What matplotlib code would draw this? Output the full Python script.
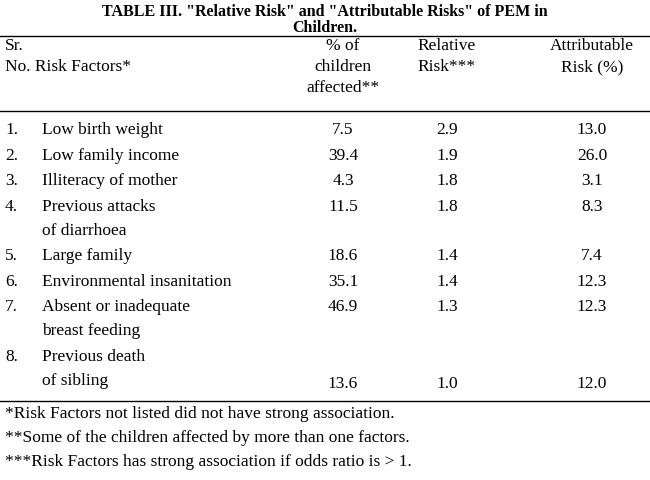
import matplotlib.pyplot as plt

title = ['TABLE III. "Relative Risk" and "Attributable Risks" of PEM in', 'Children.']
nums = ['1.', '2.', '3.', '4.', '5.', '6.', '7.', '8.']
factors = [['Low birth weight'], ['Low family income'], ['Illiteracy of mother'],
           ['Previous attacks', 'of diarrhoea'], ['Large family'],
           ['Environmental insanitation'], ['Absent or inadequate', 'breast feeding'],
           ['Previous death', 'of sibling']]
pct = ['7.5', '39.4', '4.3', '11.5', '18.6', '35.1', '46.9', '13.6']
rr = ['2.9', '1.9', '1.8', '1.8', '1.4', '1.4', '1.3', '1.0']
ar = ['13.0', '26.0', '3.1', '8.3', '7.4', '12.3', '12.3', '12.0']
value_line = [0, 0, 0, 0, 0, 0, 0, 1]  # which text line the numbers sit on
row_y = [130, 156, 181, 207, 256, 282, 307, 357]
notes = ['*Risk Factors not listed did not have strong association.',
         '**Some of the children affected by more than one factors.',
         '***Risk Factors has strong association if odds ratio is > 1.']

W, H = 650, 481
plt.rcParams['font.family'] = 'Liberation Serif'
fig = plt.figure(figsize=(6.5, 4.81), dpi=100)
ax = fig.add_axes([0, 0, 1, 1])
ax.set_xlim(0, W)
ax.set_ylim(H, 0)
ax.axis('off')

def t(x, y, s, ha='left', fs=12.5, **kw):
    ax.text(x, y, s, ha=ha, va='center', fontsize=fs, **kw)

t(325, 12, title[0], 'center', fs=11.5, weight='bold')
t(325, 28, title[1], 'center', fs=11.5, weight='bold')
ax.plot([0, W], [37, 37], color='black', lw=1)

t(5, 46, 'Sr.')
t(5, 67, 'No. Risk Factors*')
for i, s in enumerate(['% of', 'children', 'affected**']):
    t(343, 46 + 21 * i, s, 'center')
for i, s in enumerate(['Relative', 'Risk***']):
    t(447, 46 + 21 * i, s, 'center')
for i, s in enumerate(['Attributable', 'Risk (%)']):
    t(592, 46 + 21 * i, s, 'center')
ax.plot([0, W], [112, 112], color='black', lw=1)

for n, f, p, r, a, vl, y in zip(nums, factors, pct, rr, ar, value_line, row_y):
    t(5, y, n)
    for j, s in enumerate(f):
        t(42, y + 24 * j, s)
    yv = y + 27 * vl
    t(343, yv, p, 'center')
    t(447, yv, r, 'center')
    t(592, yv, a, 'center')

ax.plot([0, W], [402, 402], color='black', lw=1)
for i, s in enumerate(notes):
    t(5, 414 + 24 * i, s)

fig.savefig('out.png', dpi=100)
